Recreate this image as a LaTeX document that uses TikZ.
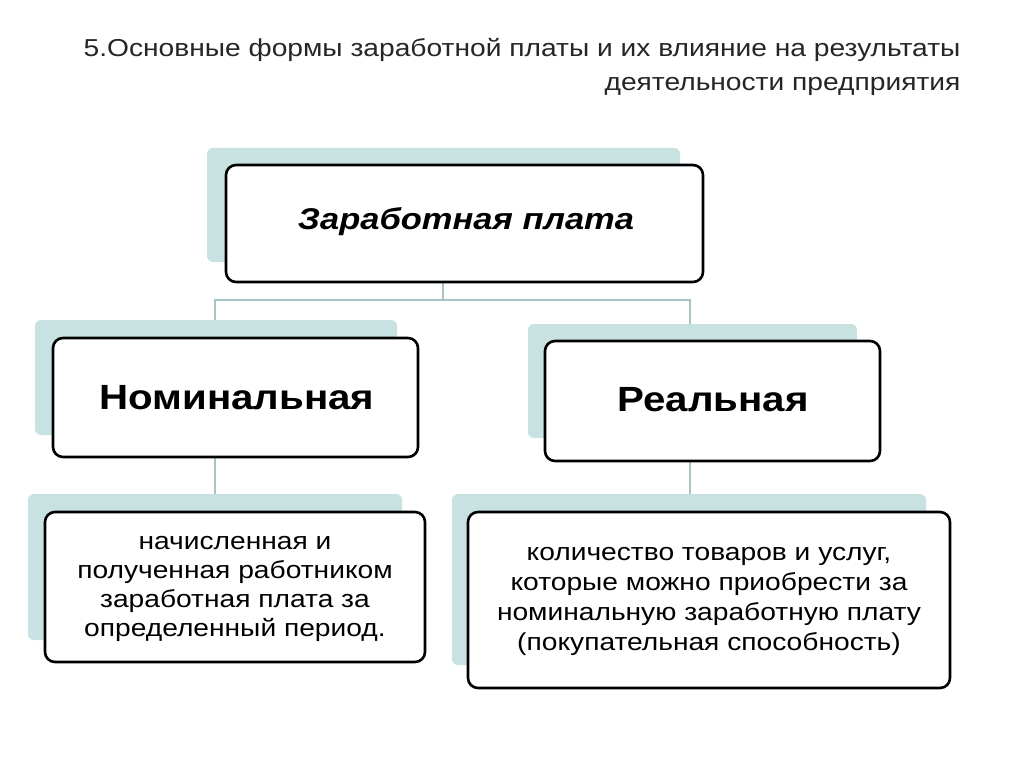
\documentclass[tikz,border=0pt]{standalone}
\usepackage{fontspec}
\setmainfont{Liberation Sans}
\newfontfamily\wide[FakeStretch=1.15]{Liberation Sans}
\begin{document}
\begin{tikzpicture}[x=1pt,y=-1pt,
  shadowbox/.style={fill=shd,draw=none,rounded corners=6},
  mainbox/.style={fill=white,draw=black,line width=2.6pt,rounded corners=10},
  conn/.style={draw=lnk,line width=1.6pt}]
\definecolor{shd}{HTML}{C8E2E2}
\definecolor{lnk}{HTML}{A9C4C6}
\useasboundingbox[fill=white] (0,0) rectangle (1024,767);
\node[anchor=east,align=right,font=\wide\fontsize{24.5}{34}\selectfont,text=black!85] (title) at (964,67)
 {5.Основные формы заработной платы и их влияние на результаты\\деятельности предприятия};
% connectors
\coordinate (j) at (443,300);
\draw[conn] (443,268) -- (j);
\draw[conn] (215,320) -- (215,300) -- (690,300) -- (690,324);
\draw[conn] (215,440) -- (215,494);
\draw[conn] (690,445) -- (690,494);
% shadows
\fill[shadowbox] (207,148) rectangle (680,262);
\fill[shadowbox] (35,320) rectangle (397,435);
\fill[shadowbox] (528,324) rectangle (857,438);
\fill[shadowbox] (28,494) rectangle (402,640);
\fill[shadowbox] (452,494) rectangle (926,665);
% boxes
\draw[mainbox] (226,165) rectangle (703,282);
\node[font=\wide\fontsize{30}{34}\selectfont\bfseries\itshape] (zp) at (466,222) {Заработная плата};
\draw[mainbox] (53,338) rectangle (418,457);
\node[font=\wide\fontsize{35}{40}\selectfont\bfseries] (nom) at (237,398) {Номинальная};
\draw[mainbox] (545,341) rectangle (880,461);
\node[font=\wide\fontsize{35}{40}\selectfont\bfseries] (real) at (713,400) {Реальная};
\draw[mainbox] (45,512) rectangle (425,662);
\node[align=center,font=\wide\fontsize{24.5}{29}\selectfont] (nomt) at (235,589)
 {начисленная и\\полученная работником\\заработная плата за\\определенный период.};
\draw[mainbox] (468,512) rectangle (950,688);
\node[align=center,font=\wide\fontsize{24.5}{30}\selectfont] (realt) at (709,601)
 {количество товаров и услуг,\\которые можно приобрести за\\номинальную заработную плату\\(покупательная способность)};
\end{tikzpicture}
\end{document}
